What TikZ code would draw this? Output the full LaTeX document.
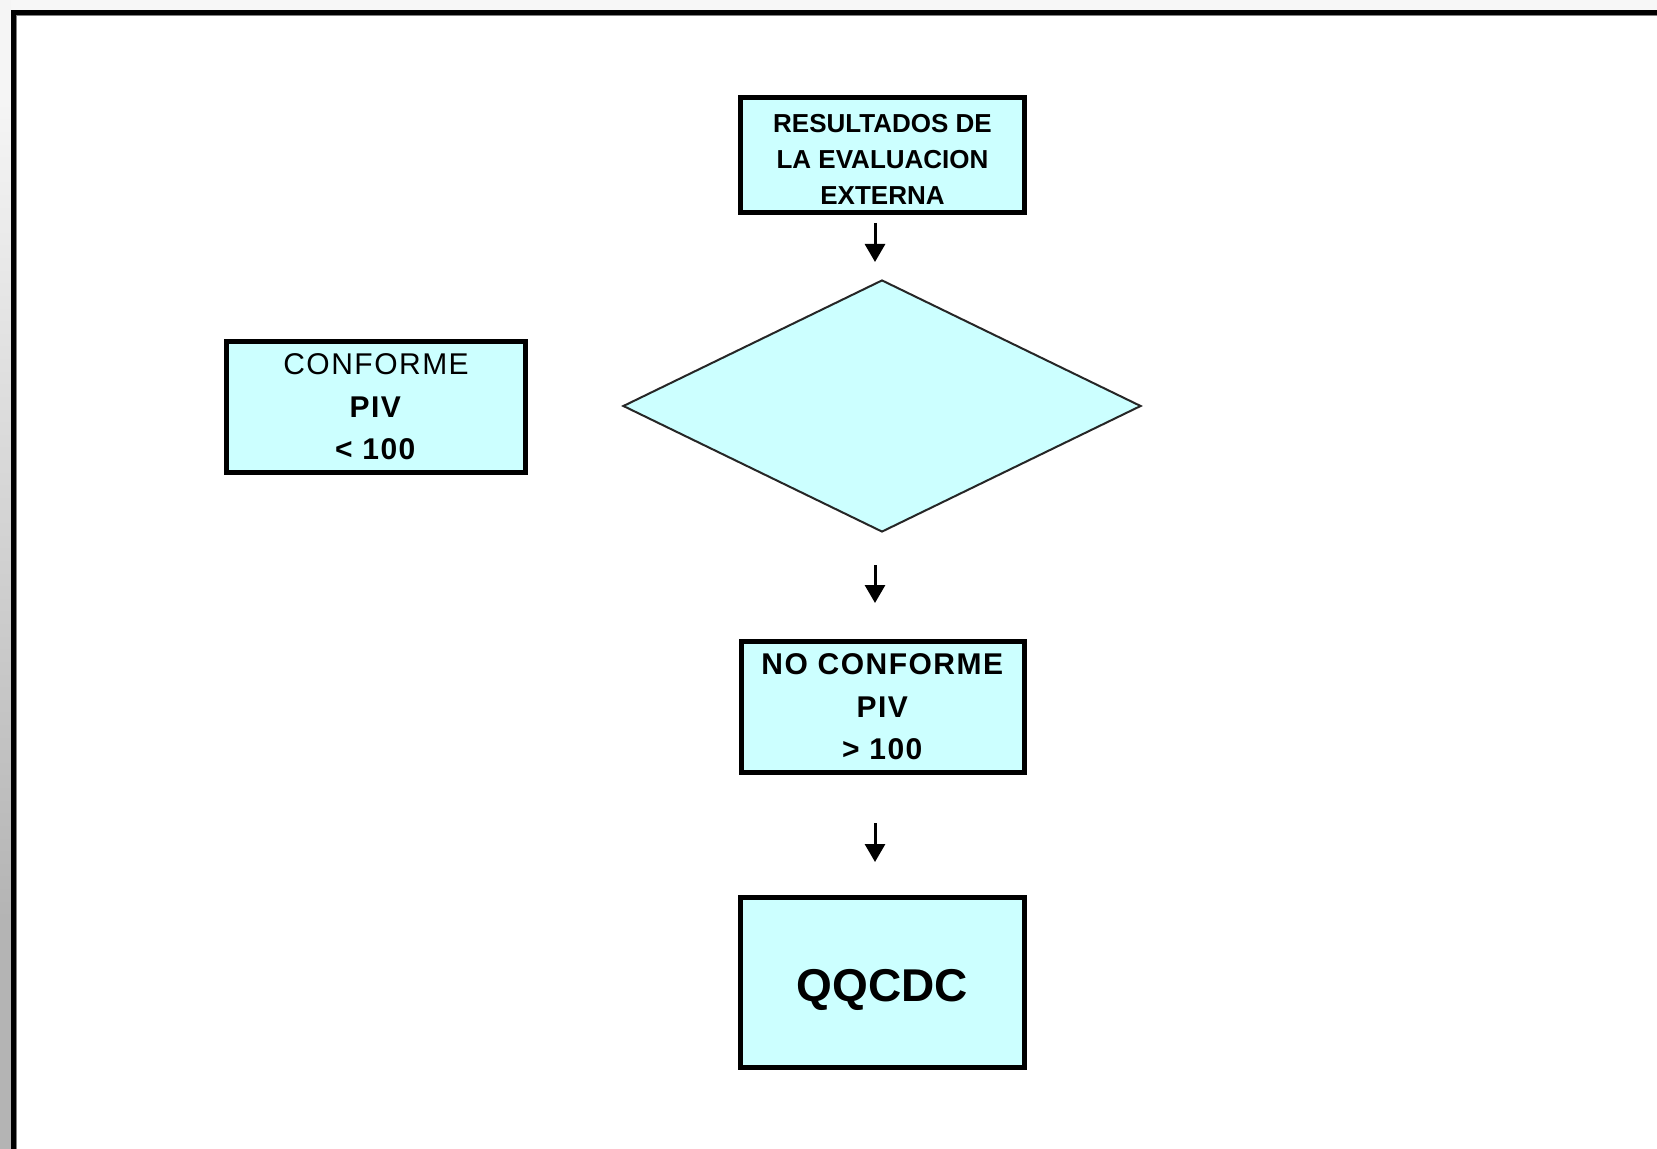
\documentclass[tikz,border=0pt]{standalone}
\usepackage{fontspec}
\setmainfont{Liberation Sans}
\usetikzlibrary{shapes.geometric,arrows.meta}
\definecolor{boxfill}{RGB}{204,255,255}
\definecolor{margintop}{RGB}{247,247,247}
\definecolor{marginlight}{RGB}{245,245,245}
\definecolor{margindark}{RGB}{180,180,180}
\definecolor{framegray}{RGB}{128,128,128}
\begin{document}
\begin{tikzpicture}[x=0.5pt,y=-0.5pt,
  stepbox/.style={draw=black,line width=2.5pt,fill=boxfill,inner sep=0pt,align=center},
  decision/.style={diamond,draw=black!85,line width=1pt,fill=boxfill,inner sep=0pt,
    minimum width=259pt,minimum height=126pt},
  flow/.style={line width=1.5pt,-{Triangle[width=10pt,length=9pt]}},
  smalltxt/.style={font=\fontsize{13}{18}\selectfont\bfseries,text height=50pt},
  midtxt/.style={font=\fontsize{15}{21.25}\selectfont\addfontfeatures{LetterSpace=5}},
  bigtxt/.style={font=\fontsize{23}{28}\selectfont\bfseries,text height=24pt}]

% page area and window frame
\useasboundingbox (0,0) rectangle (1657,1149);
\clip (0,0) rectangle (1657,1149);
\fill[white] (0,0) rectangle (1657,1149);
\fill[margintop] (0,0) rectangle (1657,10);
\fill[marginlight] (0,0) rectangle (11,100);
\shade[top color=marginlight,bottom color=margindark] (0,100) rectangle (11,920);
\fill[margindark] (0,920) rectangle (11,1149);
\draw[line width=2.5pt] (13.5,1170) -- (13.5,12.5) -- (1680,12.5);
\draw[framegray,line width=0.5pt] (16.5,1170) -- (16.5,15.5) -- (1680,15.5);

% flowchart elements
\node[stepbox,smalltxt,minimum width=142pt,minimum height=57.5pt] (res) at (882.5,155)
  {RESULTADOS DE\\LA EVALUACION\\EXTERNA};
\node[decision] (dec) at (882,406) {};
\node[stepbox,midtxt,minimum width=149.5pt,minimum height=65.5pt] (conf) at (376,407)
  {CONFORME\\\textbf{PIV}\\\textbf{< 100}};
\node[stepbox,midtxt,minimum width=141.5pt,minimum height=65.5pt] (noconf) at (883,707)
  {\textbf{NO CONFORME}\\\textbf{PIV}\\\textbf{> 100}};
\node[stepbox,bigtxt,minimum width=142pt,minimum height=85pt] (qq) at (882.5,982.5) {QQCDC};

% short downward arrows
\coordinate (a1s) at (875,223);
\coordinate (a1e) at (875,262);
\coordinate (a2s) at (875,565);
\coordinate (a2e) at (875,603);
\coordinate (a3s) at (875,823);
\coordinate (a3e) at (875,862);
\draw[flow] (a1s) -- (a1e);
\draw[flow] (a2s) -- (a2e);
\draw[flow] (a3s) -- (a3e);
\end{tikzpicture}
\end{document}
